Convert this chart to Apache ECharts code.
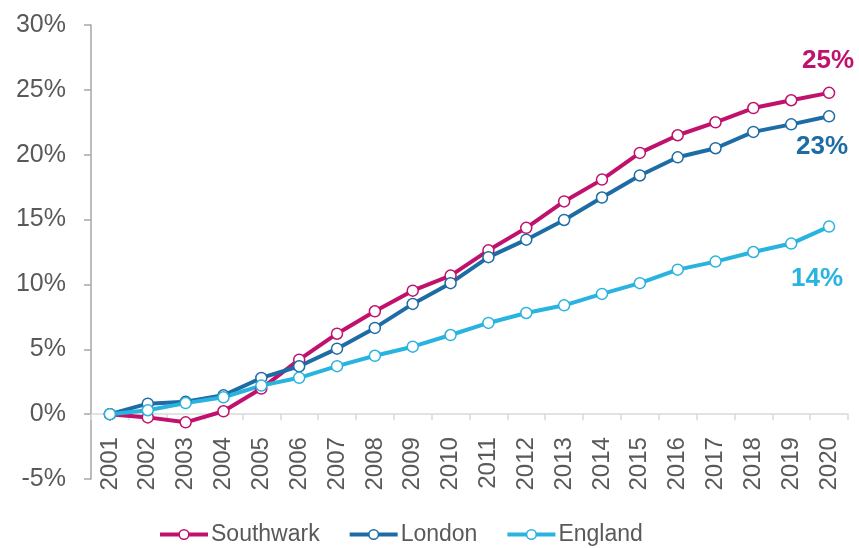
<!DOCTYPE html>
<html>
<head>
<meta charset="utf-8">
<script src="https://cdn.jsdelivr.net/npm/echarts@6/dist/echarts.min.js"></script>
<style>
html,body{margin:0;padding:0;background:#fff;}
#chart{width:859px;height:548px;}
</style>
</head>
<body>
<div id="chart"></div>
<script>
const years = ['2001','2002','2003','2004','2005','2006','2007','2008','2009','2010','2011','2012','2013','2014','2015','2016','2017','2018','2019','2020'];
const southwark = [0, -0.25, -0.63, 0.22, 1.97, 4.2, 6.2, 7.93, 9.52, 10.68, 12.63, 14.36, 16.4, 18.08, 20.14, 21.5, 22.5, 23.6, 24.2, 24.77];
const london = [0, 0.81, 0.95, 1.45, 2.79, 3.69, 5.05, 6.65, 8.5, 10.1, 12.1, 13.45, 14.97, 16.7, 18.4, 19.8, 20.5, 21.76, 22.34, 22.96];
const england = [0, 0.3, 0.85, 1.3, 2.2, 2.8, 3.7, 4.5, 5.2, 6.1, 7.03, 7.8, 8.39, 9.27, 10.1, 11.14, 11.76, 12.5, 13.15, 14.46];
const endLabels = ['25%', '23%', '14%'];
const seriesNames = ['Southwark', 'London', 'England'];
const yMin = -5, yMax = 30, yStep = 5;

const colors = ['#C0126C', '#1D6CA5', '#29B3DF'];
const labelOffsets = [[-1, -32], [-7, 31], [-12, 52]];
const FONT = '"Liberation Sans", Arial, sans-serif';
const gridTop = 25, gridBottom = 69, H = 548;
const plotH = H - gridTop - gridBottom;
const zeroOffset = -plotH * (0 - yMin) / (yMax - yMin);

function build(values, idx) {
  return values.map((v, i) => {
    if (i === values.length - 1) {
      return {
        value: v,
        label: {
          show: true,
          position: 'inside',
          offset: labelOffsets[idx],
          formatter: endLabels[idx],
          color: colors[idx],
          fontSize: 26,
          fontWeight: 'bold',
          fontFamily: FONT
        }
      };
    }
    return v;
  });
}

const allSeries = [southwark, london, england].map((vals, idx) => ({
  name: seriesNames[idx],
  type: 'line',
  data: build(vals, idx),
  symbol: 'circle',
  symbolSize: 11,
  showAllSymbol: true,
  lineStyle: { width: 4, color: colors[idx] },
  itemStyle: { color: '#ffffff', borderColor: colors[idx], borderWidth: 1.5 },
  emphasis: { disabled: true },
  animation: false
}));

const chart = echarts.init(document.getElementById('chart'), null, { renderer: 'canvas' });
chart.setOption({
  backgroundColor: '#ffffff',
  animation: false,
  grid: { left: 91, right: 11, top: gridTop, bottom: gridBottom, containLabel: false },
  legend: {
    data: seriesNames.map((n, i) => ({ name: n, itemStyle: { color: '#ffffff', borderColor: colors[i], borderWidth: 1.5 }, lineStyle: { color: colors[i], width: 4 } })),
    left: 153,
    top: 518,
    itemWidth: 48,
    itemHeight: 12,
    itemGap: 28,
    textStyle: { fontSize: 23, color: '#595959', fontFamily: FONT, padding: [0, 0, 0, -2] },
    selectedMode: false
  },
  xAxis: {
    type: 'category',
    data: years,
    boundaryGap: true,
    offset: zeroOffset,
    axisLine: { onZero: false, lineStyle: { color: '#D9D9D9', width: 1.5 } },
    axisTick: { show: true, alignWithLabel: false, length: 6, lineStyle: { color: '#D9D9D9', width: 1.5 } },
    axisLabel: { rotate: 90, interval: 0, margin: 23, fontSize: 24, color: '#595959', fontFamily: FONT }
  },
  yAxis: {
    type: 'value',
    min: yMin,
    max: yMax,
    interval: yStep,
    axisLine: { show: true, lineStyle: { color: '#A6A6A6', width: 1.5 } },
    axisTick: { show: true, length: 7, lineStyle: { color: '#A6A6A6', width: 1.5 } },
    splitLine: { show: false },
    axisLabel: { formatter: '{value}%', margin: 25, fontSize: 25, color: '#595959', fontFamily: FONT }
  },
  series: allSeries
});
</script>
</body>
</html>
